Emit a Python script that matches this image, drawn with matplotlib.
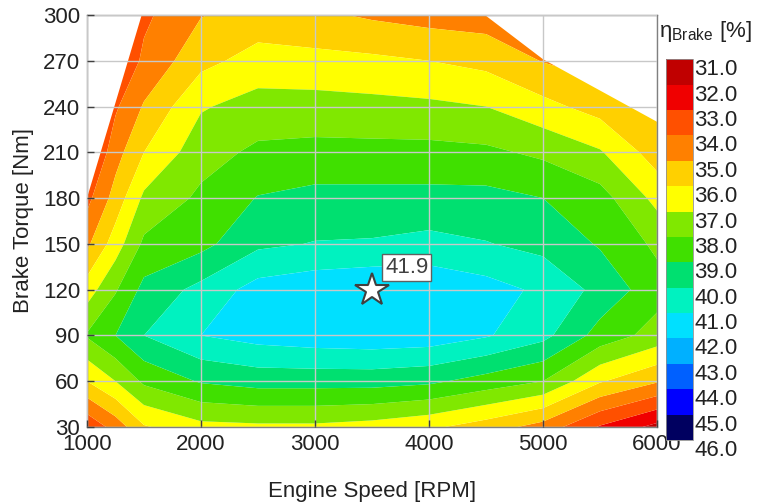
import numpy as np
import matplotlib
matplotlib.use("Agg")
import matplotlib.pyplot as plt
from matplotlib.colors import ListedColormap, BoundaryNorm
from matplotlib.patches import Polygon
import matplotlib.colorbar as mcolorbar

plt.rcParams['font.family'] = ['Liberation Sans', 'DejaVu Sans']
plt.rcParams['mathtext.fontset'] = 'custom'
plt.rcParams['mathtext.rm'] = 'Liberation Sans'
plt.rcParams['mathtext.it'] = 'Liberation Sans:italic'

# Engine operating grid
speed_rpm = [1000, 1250, 1500, 2000, 2500, 3000, 3500, 4000, 4500, 5000, 5500, 6000]
torque_nm = [30, 60, 90, 120, 150, 180, 210, 240, 270, 300]

# Brake efficiency [%] per torque level, one value per speed
eta_030 = [33.2, 34.4, 35.9, 36.7, 36.8, 36.8, 36.6, 36.2, 35.5, 34.6, 32.9, 31.7]
eta_060 = [36.0, 37.0, 38.2, 39.1, 39.4, 39.4, 39.4, 39.2, 38.6, 38.0, 36.1, 35.1]
eta_090 = [38.1, 39.0, 40.0, 41.0, 41.4, 41.6, 41.7, 41.6, 41.1, 40.3, 38.6, 37.6]
eta_120 = [36.5, 37.9, 39.3, 40.3, 41.4, 41.7, 41.9, 41.8, 41.4, 40.8, 39.7, 38.4]
eta_150 = [34.8, 36.5, 38.2, 38.7, 39.8, 40.05, 40.1, 40.3, 40.05, 39.7, 38.9, 37.8]
eta_180 = [33.7, 35.4, 37.2, 38.2, 39.05, 39.3, 39.3, 39.3, 39.3, 39.0, 38.4, 36.7]
eta_210 = [32.6, 34.6, 36.0, 37.6, 38.2, 38.3, 38.3, 38.3, 38.2, 37.8, 37.1, 35.5]
eta_240 = [31.8, 33.85, 35.1, 36.9, 37.4, 37.4, 37.3, 37.2, 37.0, 36.3, 35.6, 34.9]
eta_270 = [31.0, 33.0, 34.2, 35.7, 36.4, 36.3, 36.2, 36.0, 35.7, 34.95, 34.6, 34.0]
eta_300 = [30.3, 32.2, 33.8, 34.95, 35.4, 35.2, 34.85, 34.6, 34.5, 34.2, 33.8, 33.5]

# Full-load (maximum torque) line
wot_speed = [1000, 1480, 4490, 5000, 6000]
wot_torque = [180, 300, 300, 271, 230]

# Best efficiency point
best_speed = 3500
best_torque = 120
best_eta = 41.9

# Colour scale
levels = list(range(31, 47))
band_colors = ['#c00000', '#f00000', '#ff5000', '#ff8000', '#ffd000',
               '#ffff00', '#80e800', '#40e000', '#00e070', '#00f2c0',
               '#00e0ff', '#00b0ff', '#0060ff', '#0000ff', '#000060']

eta = np.array([eta_030, eta_060, eta_090, eta_120, eta_150,
                eta_180, eta_210, eta_240, eta_270, eta_300])

cmap = ListedColormap(band_colors)
norm = BoundaryNorm(levels, cmap.N)

fig = plt.figure(figsize=(7.59, 5.04), dpi=100)
ax = fig.add_axes([0.1146, 0.1528, 0.751, 0.8175])

cs = ax.contourf(speed_rpm, torque_nm, eta, levels=levels, cmap=cmap, norm=norm,
                 zorder=1, antialiased=True)

# limit the map to the region below the full-load line
outline = [(wot_speed[0], torque_nm[0])] + list(zip(wot_speed, wot_torque)) + \
          [(wot_speed[-1], torque_nm[0])]
clip = Polygon(outline, closed=True, transform=ax.transData, facecolor='none',
               edgecolor='none')
ax.add_patch(clip)
cs.set_clip_path(clip)

ax.set_xlim(1000, 6000)
ax.set_ylim(30, 300)
ax.set_xticks(range(1000, 6001, 1000))
ax.set_yticks(range(30, 301, 30))
ax.set_axisbelow(False)
ax.grid(True, color='#c8c8c8', linewidth=1.0, zorder=2)
ax.tick_params(direction='in', length=5, width=1, color='#404040',
               labelsize=16, labelcolor='#222222', pad=5)
for sp in ax.spines.values():
    sp.set_color('#808080')
    sp.set_linewidth(1.0)

ax.set_xlabel('Engine Speed [RPM]', fontsize=16, color='#222222', labelpad=19)
ax.set_ylabel('Brake Torque [Nm]', fontsize=16, color='#222222', labelpad=6)

ax.plot([best_speed], [best_torque], marker='*', markersize=25,
        markerfacecolor='white', markeredgecolor='#404040', markeredgewidth=1.5,
        linestyle='none', zorder=5)
ax.annotate(f'{best_eta:.1f}', xy=(best_speed, best_torque), xytext=(25, 16),
            textcoords='offset points', ha='center', va='center', fontsize=16,
            color='#404040', zorder=6,
            bbox=dict(boxstyle='square,pad=0.12', facecolor='white',
                      edgecolor='#606060', linewidth=1))

# Colour bar, lowest efficiency on top
cax = fig.add_axes([0.877, 0.127, 0.0356, 0.7554])
cb = mcolorbar.ColorbarBase(cax, cmap=cmap, norm=norm, boundaries=levels,
                            ticks=levels, spacing='uniform')
cax.invert_yaxis()
cb.outline.set_edgecolor('#909090')
cb.outline.set_linewidth(0.6)
cax.tick_params(length=0, labelsize=16, labelcolor='#222222', pad=1)
cax.set_yticklabels([f'{v:.1f}' for v in levels])
for t in cax.get_yticklabels():
    t.set_verticalalignment('top')

fig.text(0.8685, 1 - 32 / 504, r'$\mathrm{η}_{\mathrm{Brake}}$ [%]', fontsize=16,
         color='#222222', ha='left', va='center')

fig.savefig('out.png', dpi=100)
